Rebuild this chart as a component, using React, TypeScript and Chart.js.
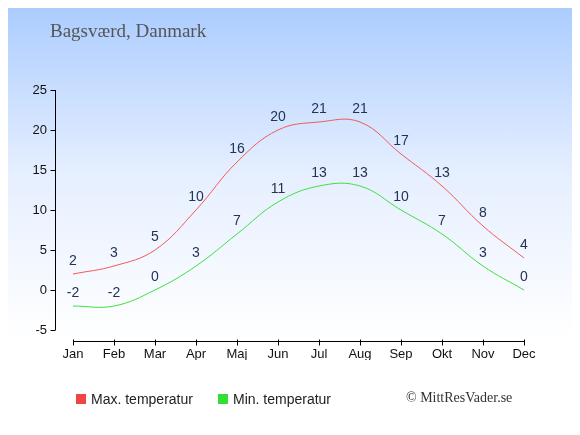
import { useEffect, useRef } from 'react';
import { Chart, registerables } from 'chart.js';

Chart.register(...registerables);

const months = ['Jan', 'Feb', 'Mar', 'Apr', 'Maj', 'Jun', 'Jul', 'Aug', 'Sep', 'Okt', 'Nov', 'Dec'];
const maxTemp = [2, 3, 5, 10, 16, 20, 21, 21, 17, 13, 8, 4];
const minTemp = [-2, -2, 0, 3, 7, 11, 13, 13, 10, 7, 3, 0];
const yTicks = [-5, 0, 5, 10, 15, 20, 25];

const sans = '"Liberation Sans", Arial, sans-serif';
const serif = '"Liberation Serif", "Times New Roman", serif';

// draws axis lines with small outside tick marks, like the original
const axesPlugin = {
  id: 'axes',
  afterDraw(chart: any) {
    const { ctx, chartArea, scales } = chart;
    const x = scales.x;
    const y = scales.y;
    ctx.save();
    ctx.strokeStyle = '#000';
    ctx.lineWidth = 1;
    ctx.beginPath();
    const ax = Math.round(chartArea.left - 18) + 0.5;
    ctx.moveTo(ax, y.getPixelForValue(yTicks[yTicks.length - 1]));
    ctx.lineTo(ax, y.getPixelForValue(yTicks[0]));
    yTicks.forEach((v) => {
      const py = Math.round(y.getPixelForValue(v)) + 0.5;
      ctx.moveTo(ax - 5, py);
      ctx.lineTo(ax, py);
    });
    const ay = Math.round(chartArea.bottom + 11) + 0.5;
    ctx.moveTo(x.getPixelForValue(0), ay);
    ctx.lineTo(x.getPixelForValue(months.length - 1), ay);
    months.forEach((_, i) => {
      const px = Math.round(x.getPixelForValue(i)) + 0.5;
      ctx.moveTo(px, ay - 2);
      ctx.lineTo(px, ay + 4);
    });
    ctx.stroke();
    ctx.restore();
  },
};

// value labels above each point
const valueLabels = {
  id: 'valueLabels',
  afterDatasetsDraw(chart: any) {
    const { ctx } = chart;
    ctx.save();
    ctx.font = `14px ${sans}`;
    ctx.fillStyle = '#233355';
    ctx.textAlign = 'center';
    ctx.textBaseline = 'middle';
    chart.data.datasets.forEach((ds: any, i: number) => {
      const meta = chart.getDatasetMeta(i);
      meta.data.forEach((pt: any, j: number) => {
        ctx.fillText(String(Math.round(ds.data[j])), pt.x, pt.y - 13);
      });
    });
    ctx.restore();
  },
};

const App = () => {
  const canvasRef = useRef<HTMLCanvasElement>(null);

  useEffect(() => {
    let chart: Chart | null = null;
    if (canvasRef.current) {
      chart = new Chart(canvasRef.current, {
        type: 'line',
        data: {
          labels: months,
          datasets: [
            {
              label: 'Max. temperatur',
              data: maxTemp,
              borderColor: '#f25a5a',
              borderWidth: 1,
              tension: 0.4,
              pointRadius: 0,
              fill: false,
            },
            {
              label: 'Min. temperatur',
              data: minTemp,
              borderColor: '#3ee03e',
              borderWidth: 1,
              tension: 0.4,
              pointRadius: 0,
              fill: false,
            },
          ],
        },
        options: {
          responsive: false,
          animation: false,
          layout: { padding: { left: 0, top: 90, right: 56, bottom: 75 } },
          plugins: {
            legend: { display: false },
            tooltip: { enabled: false },
          },
          scales: {
            x: {
              offset: false,
              grid: { display: false, drawTicks: false },
              border: { display: false },
              ticks: { color: '#111', font: { family: sans, size: 13 }, padding: 17, maxRotation: 0 },
              afterFit: (s: any) => {
                s.height = 30;
              },
            },
            y: {
              min: -5,
              max: 25,
              grid: { display: false, drawTicks: false },
              border: { display: false },
              ticks: { stepSize: 5, color: '#111', font: { family: sans, size: 13 }, padding: 26 },
              afterFit: (s: any) => {
                s.width = 73;
              },
            },
          },
        },
        plugins: [axesPlugin, valueLabels],
      });
    }
    return () => {
      chart?.destroy();
    };
  }, []);

  return (
    <div
      style={{
        position: 'relative',
        width: 580,
        height: 435,
        margin: -8,
        background: 'linear-gradient(to bottom, #a9cbff 0%, #e6efff 40%, #ffffff 78%, #ffffff 100%)',
        boxShadow: 'inset 0 0 0 1px #b4b4b4',
        fontFamily: sans,
      }}
    >
      <canvas ref={canvasRef} width={580} height={435} style={{ position: 'absolute', left: 0, top: 0 }} />
      <div style={{ position: 'absolute', left: 50, top: 20, fontFamily: serif, fontSize: 19, lineHeight: '22px', color: '#555' }}>
        Bagsværd, Danmark
      </div>
      <div style={{ position: 'absolute', left: 76, top: 394, width: 10, height: 10, background: '#ee4646' }} />
      <div style={{ position: 'absolute', left: 91, top: 390, fontSize: 14, lineHeight: '18px', color: '#222' }}>
        Max. temperatur
      </div>
      <div style={{ position: 'absolute', left: 218, top: 394, width: 10, height: 10, background: '#33dd33' }} />
      <div style={{ position: 'absolute', left: 233, top: 390, fontSize: 14, lineHeight: '18px', color: '#222' }}>
        Min. temperatur
      </div>
      <div style={{ position: 'absolute', left: 406, top: 389, fontFamily: serif, fontSize: 14, lineHeight: '18px', color: '#333' }}>
        © MittResVader.se
      </div>
    </div>
  );
};

export default App;
